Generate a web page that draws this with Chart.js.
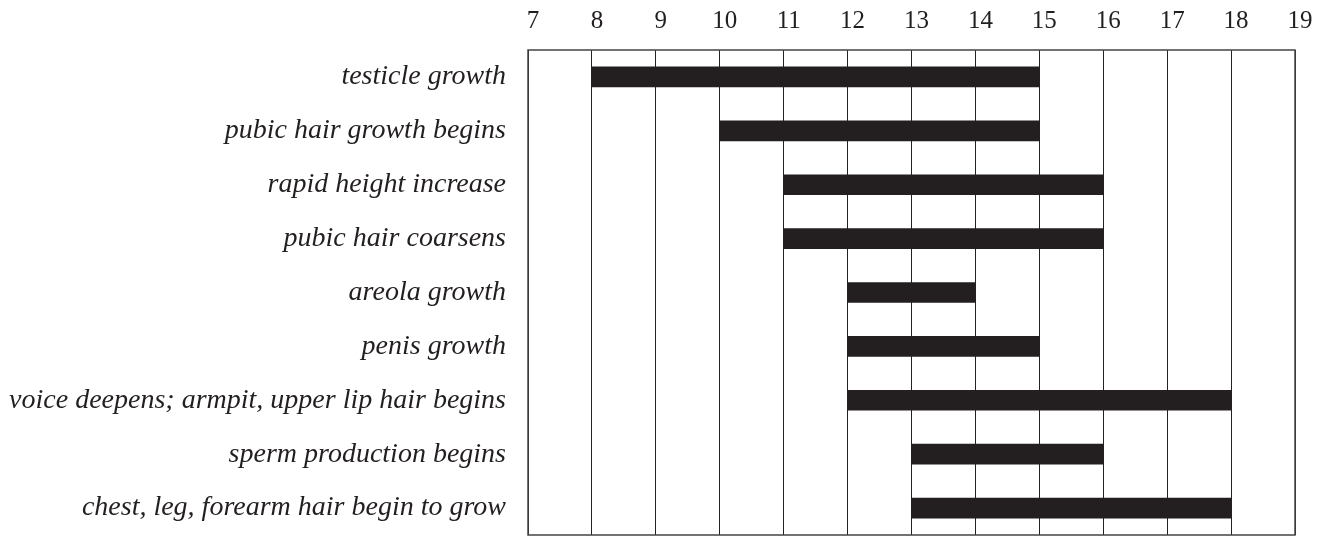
<!DOCTYPE html>
<html>
<head>
<meta charset="utf-8">
<script src="https://cdn.jsdelivr.net/npm/chart.js@4.4.0/dist/chart.umd.min.js"></script>
<style>
  body { margin: 0; background: #fff; }
  #wrap { width: 1322px; height: 537px; }
</style>
</head>
<body>
<div id="wrap"><canvas id="ourChart"></canvas></div>
<script>
let stages = [
    'testicle growth',
    'pubic hair growth begins',
    'rapid height increase',
    'pubic hair coarsens',
    'areola growth',
    'penis growth',
    'voice deepens; armpit, upper lip hair begins',
    'sperm production begins',
    'chest, leg, forearm hair begin to grow'
]
let startAge = [8, 10, 11, 11, 12, 12, 12, 13, 13]
let endAge = [15, 15, 16, 16, 14, 15, 18, 16, 18]
let ageMin = 7
let ageMax = 19

// рамка вокруг области графика
const boxPlugin = {
    id: 'box',
    afterDraw(chart) {
        const a = chart.chartArea;
        const ctx = chart.ctx;
        ctx.save();
        ctx.strokeStyle = '#444';
        ctx.lineWidth = 1.5;
        ctx.strokeRect(a.left, a.top, a.right - a.left, a.bottom - a.top);
        ctx.restore();
    }
};

const chartElement = new Chart(document.getElementById('ourChart'), {
    type: 'bar',
    data: {
        labels: stages,
        datasets: [
            {
                data: stages.map((s, i) => [startAge[i], endAge[i]]),
                backgroundColor: '#231f20',
                borderWidth: 0,
                barThickness: 20
            }
        ]
    },
    options: {
        indexAxis: 'y',
        responsive: true,
        maintainAspectRatio: false,
        animation: false,
        layout: { padding: { top: 0, right: 27, bottom: 2, left: 0 } },
        plugins: {
            legend: { display: false },
            tooltip: { enabled: false }
        },
        scales: {
            x: {
                position: 'top',
                min: ageMin,
                max: ageMax,
                border: { display: false },
                grid: { color: '#222', lineWidth: 1, drawTicks: false },
                ticks: {
                    stepSize: 1,
                    padding: 14,
                    labelOffset: 5,
                    color: '#231f20',
                    font: { family: 'Liberation Serif', size: 25 }
                },
                afterFit: function (scale) { scale.height = 50; }
            },
            y: {
                border: { display: false },
                grid: { display: false, drawTicks: false },
                ticks: {
                    padding: 22,
                    color: '#231f20',
                    font: { family: 'Liberation Serif', size: 28, style: 'italic' }
                },
                afterFit: function (scale) {
                    scale.width = 528;
                    scale.paddingTop = 0;
                    scale.paddingBottom = 0;
                }
            }
        }
    },
    plugins: [boxPlugin]
});
</script>
</body>
</html>
